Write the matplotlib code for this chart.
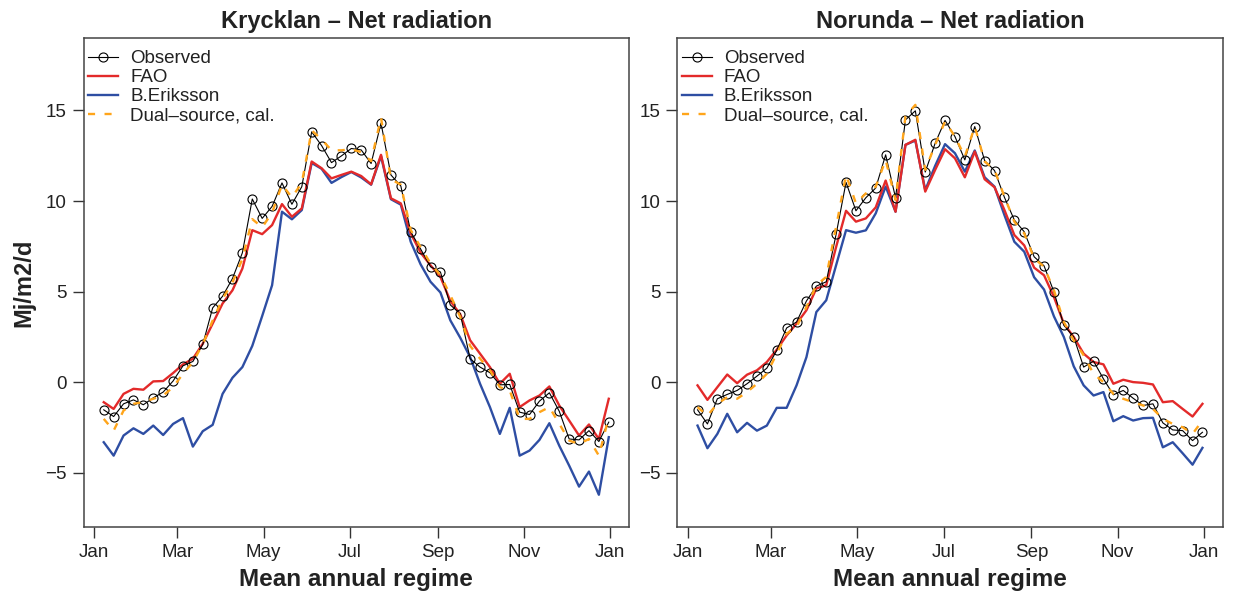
import datetime as dt
import numpy as np
import matplotlib
matplotlib.use("Agg")
import matplotlib.pyplot as plt

plt.rcParams["font.family"] = ["Liberation Sans", "DejaVu Sans"]

# Weekly mean annual regime of net radiation (MJ/m2/d), week 1..52
weeks = np.arange(1, 53)

krycklan_observed = [-1.53, -1.90, -1.20, -0.98, -1.25, -0.87, -0.55, 0.06, 0.90, 1.14,
                     2.08, 4.10, 4.74, 5.72, 7.14, 10.11, 9.04, 9.70, 11.00, 9.82,
                     10.79, 13.82, 13.06, 12.12, 12.49, 12.90, 12.82, 12.07, 14.30, 11.44,
                     10.83, 8.30, 7.35, 6.37, 6.08, 4.26, 3.78, 1.29, 0.83, 0.52,
                     -0.15, -0.13, -1.66, -1.79, -1.05, -0.59, -1.61, -3.14, -3.19, -2.68,
                     -3.28, -2.21]
krycklan_fao = [-1.11, -1.48, -0.65, -0.37, -0.42, 0.04, 0.06, 0.50, 0.98, 1.29,
                2.12, 3.23, 4.34, 5.07, 6.27, 8.39, 8.17, 8.67, 9.83, 9.13,
                9.59, 12.18, 11.81, 11.25, 11.44, 11.62, 11.38, 10.92, 12.55, 10.15,
                9.87, 8.21, 7.15, 6.45, 5.81, 4.48, 3.75, 2.31, 1.57, 0.83,
                -0.09, 0.46, -1.38, -1.01, -0.74, -0.24, -1.29, -2.12, -2.95, -2.34,
                -3.14, -0.92]
krycklan_eriksson = [-3.32, -4.06, -2.95, -2.55, -2.86, -2.40, -2.92, -2.31, -1.99, -3.56,
                     -2.71, -2.36, -0.65, 0.24, 0.83, 2.00, 3.65, 5.35, 9.41, 8.99,
                     9.50, 12.10, 11.78, 11.00, 11.32, 11.60, 11.30, 10.90, 12.48, 10.10,
                     9.80, 7.75, 6.50, 5.54, 4.95, 3.41, 2.45, 1.38, -0.09, -1.38,
                     -2.86, -1.42, -4.06, -3.78, -3.19, -2.27, -3.51, -4.61, -5.77, -4.94,
                     -6.22, -3.04]
krycklan_dual = [-2.03, -2.68, -1.57, -1.20, -1.10, -0.92, -0.74, -0.28, 0.46, 1.10,
                 2.10, 3.40, 4.60, 5.50, 6.80, 9.00, 8.55, 9.35, 10.90, 10.20,
                 11.00, 13.90, 13.40, 12.80, 12.80, 12.86, 12.70, 12.20, 14.60, 11.20,
                 10.90, 8.40, 7.45, 6.55, 5.90, 4.80, 3.60, 2.00, 1.30, 0.65,
                 -0.28, -0.46, -2.03, -2.03, -1.66, -1.38, -2.30, -3.23, -3.41, -3.14,
                 -4.06, -1.94]

norunda_observed = [-1.53, -2.31, -0.92, -0.68, -0.46, -0.09, 0.33, 0.77, 1.75, 2.99,
                    3.32, 4.48, 5.30, 5.54, 8.17, 11.03, 9.46, 10.18, 10.72, 12.55,
                    10.18, 14.48, 14.98, 11.60, 13.19, 14.45, 13.56, 12.27, 14.11, 12.23,
                    11.68, 10.20, 8.95, 8.30, 6.92, 6.42, 4.98, 3.14, 2.49, 0.83,
                    1.16, 0.18, -0.70, -0.46, -0.89, -1.29, -1.20, -2.25, -2.64, -2.68,
                    -3.23, -2.77]
norunda_fao = [-0.18, -0.98, -0.28, 0.42, -0.06, 0.41, 0.65, 1.11, 1.79, 2.58,
               3.23, 3.97, 5.17, 5.35, 7.47, 9.46, 8.86, 9.04, 9.65, 11.13,
               9.41, 13.10, 13.38, 10.52, 11.72, 12.86, 12.36, 11.31, 12.73, 11.20,
               10.76, 9.50, 8.12, 7.55, 6.32, 5.90, 4.70, 3.23, 2.49, 1.57,
               1.11, 0.98, -0.09, 0.13, 0.00, -0.04, -0.13, -1.11, -1.05, -1.48,
               -1.90, -1.20]
norunda_eriksson = [-2.40, -3.65, -2.86, -1.75, -2.77, -2.25, -2.68, -2.40, -1.42, -1.42,
                    -0.18, 1.38, 3.87, 4.52, 6.46, 8.39, 8.25, 8.38, 9.32, 10.80,
                    9.41, 13.10, 13.34, 10.60, 11.94, 13.14, 12.64, 11.62, 12.79, 11.31,
                    10.79, 9.22, 7.75, 7.20, 5.79, 5.11, 3.63, 2.49, 0.87, -0.18,
                    -0.74, -0.55, -2.16, -1.88, -2.12, -1.99, -1.97, -3.60, -3.32, -3.93,
                    -4.56, -3.63]
norunda_dual = [-1.38, -1.85, -1.20, -0.83, -0.92, -0.55, -0.09, 0.46, 1.57, 2.68,
                3.04, 4.15, 5.35, 5.81, 8.58, 11.44, 9.87, 10.42, 10.79, 12.27,
                10.06, 14.67, 15.31, 11.72, 13.10, 14.39, 13.56, 12.45, 14.11, 12.18,
                11.72, 10.24, 8.86, 8.21, 6.83, 6.37, 5.07, 3.32, 2.31, 1.48,
                0.46, 0.00, -0.65, -0.92, -1.11, -1.29, -1.48, -2.03, -2.31, -2.49,
                -2.86, -2.12]

panel_titles = ["Krycklan \u2013 Net radiation", "Norunda \u2013 Net radiation"]
month_labels = ["Jan", "Mar", "May", "Jul", "Sep", "Nov", "Jan"]
month_starts = [(2001, 1), (2001, 3), (2001, 5), (2001, 7), (2001, 9), (2001, 11), (2002, 1)]
y_ticks = [-5, 0, 5, 10, 15]
series_labels = ["Observed", "FAO", "B.Eriksson", "Dual\u2013source, cal."]

RED = "#E32A2A"
BLUE = "#2E4EA3"
ORANGE = "#FFA51A"
INK = "#222222"

# x positions: day of year at the end of each week
day0 = dt.date(2001, 1, 1)
x_days = weeks * 7
tick_days = [(dt.date(y, m, 1) - day0).days for y, m in month_starts]

fig = plt.figure(figsize=(12.34, 5.94), dpi=100)
boxes = [[0.0677, 0.1128, 0.4420, 0.8232], [0.5489, 0.1128, 0.4419, 0.8232]]
panels = [
    (krycklan_observed, krycklan_fao, krycklan_eriksson, krycklan_dual),
    (norunda_observed, norunda_fao, norunda_eriksson, norunda_dual),
]

for k, (box, (obs, fao, eri, dual), title) in enumerate(zip(boxes, panels, panel_titles)):
    ax = fig.add_axes(box)
    ax.plot(x_days, obs, color="black", lw=0.8, marker="o", ms=6.5,
            mfc="none", mec="black", mew=0.8, label=series_labels[0], zorder=3)
    ax.plot(x_days, eri, color=BLUE, lw=1.7, label=series_labels[2], zorder=2)
    ax.plot(x_days, fao, color=RED, lw=1.7, label=series_labels[1], zorder=2.5)
    ax.plot(x_days, dual, color=ORANGE, lw=1.7, ls=(0, (3, 4)),
            label=series_labels[3], zorder=4)

    ax.set_xlim(-7.28, 378.28)
    ax.set_ylim(-8, 19)
    ax.set_xticks(tick_days)
    ax.set_xticklabels(month_labels)
    ax.set_yticks(y_ticks)
    ax.set_yticklabels([f"{v}".replace("-", "\u2212") for v in y_ticks])
    ax.tick_params(direction="out", length=8, width=1, colors="#333333",
                   labelcolor=INK, labelsize=13.5, pad=4)
    for side in ["left", "bottom", "right", "top"]:
        ax.spines[side].set_color("#444444")
        ax.spines[side].set_linewidth(1.1)

    ax.set_title(title, fontsize=17, fontweight="bold", color=INK, pad=7)
    ax.set_xlabel("Mean annual regime", fontsize=17.5, fontweight="bold",
                  color=INK, labelpad=5)
    if k == 0:
        ax.set_ylabel("Mj/m2/d", fontsize=17, fontweight="bold", color=INK,
                      labelpad=7)

    handles, labels = ax.get_legend_handles_labels()
    order = [labels.index(s) for s in series_labels]
    leg = ax.legend([handles[i] for i in order], [labels[i] for i in order],
                    loc="upper left", bbox_to_anchor=(0.001, 0.983),
                    frameon=False, fontsize=13.5,
                    handlelength=1.6, handletextpad=0.65, labelspacing=0.1,
                    borderaxespad=0.0, borderpad=0.2)
    for t in leg.get_texts():
        t.set_color(INK)

fig.savefig("out.png", dpi=100)
